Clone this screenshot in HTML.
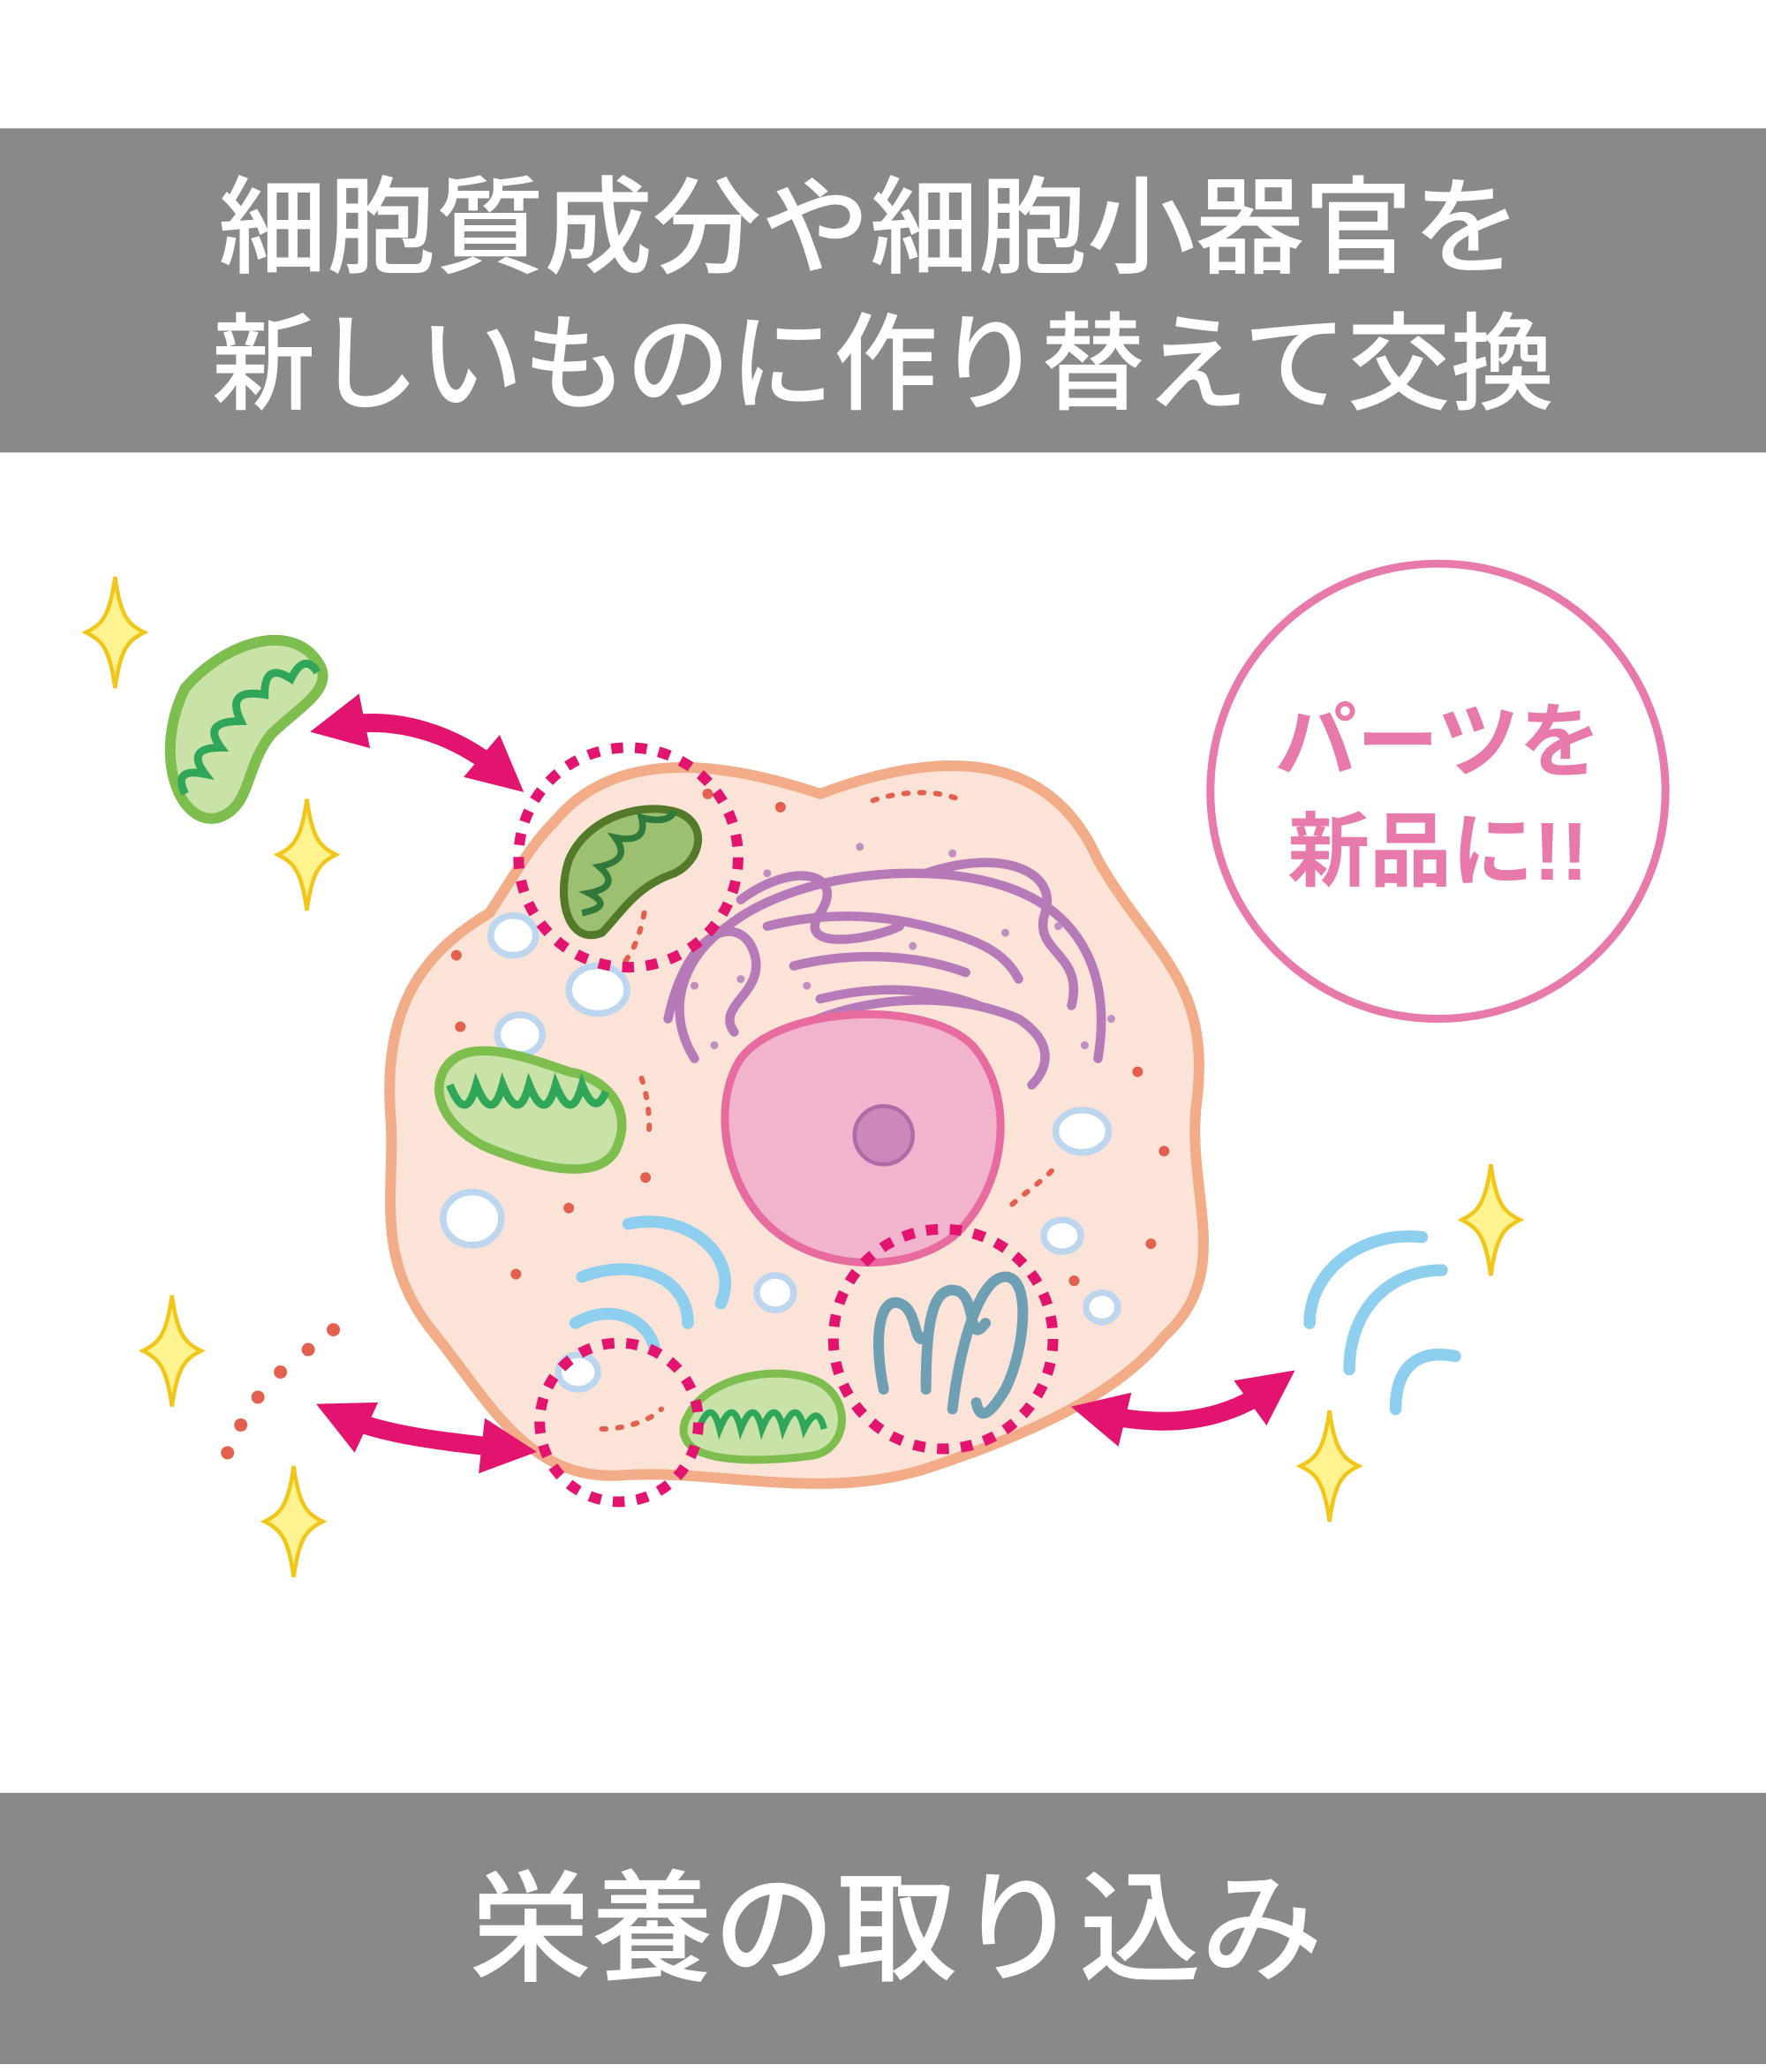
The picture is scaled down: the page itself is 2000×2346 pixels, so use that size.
<!DOCTYPE html>
<html><head><meta charset="utf-8"><style>
html,body{margin:0;padding:0;background:#fff}
svg{display:block}
text{font-family:"Liberation Sans","Noto Sans CJK JP",sans-serif}
</style></head><body>
<svg width="2000" height="2346" viewBox="0 0 1335 1566" preserveAspectRatio="none" xmlns="http://www.w3.org/2000/svg">
<defs>
<g id="spark"><path d="M0,-42 C4,-12 10,-6 22,0 C10,6 4,12 0,42 C-4,12 -10,6 -22,0 C-10,-6 -4,-12 0,-42Z" fill="#fff38f" stroke="#f2c618" stroke-width="3"/></g>
<marker id="ah" viewBox="0 0 10 10" refX="5" refY="5" markerWidth="3" markerHeight="3" orient="auto-start-reverse"><path d="M0,0 L10,5 L0,10Z" fill="#e3146f"/></marker>
</defs>
<rect x="0" y="0" width="1335" height="1566" fill="#fff"/>
<rect x="0" y="97" width="1335" height="245" fill="#898989"/>
<text x="165" y="200" font-size="80" fill="#fff" font-weight="500" textLength="985" lengthAdjust="spacingAndGlyphs">細胞質成分や細胞小器官を</text>
<text x="160" y="303" font-size="80" fill="#fff" font-weight="500" textLength="1015" lengthAdjust="spacingAndGlyphs">新しいものに作り替えて交換</text>
<rect x="0" y="1355" width="1335" height="205" fill="#898989"/>
<text x="355" y="1490" font-size="92" fill="#fff" font-weight="500" textLength="645" lengthAdjust="spacingAndGlyphs">栄養の取り込み</text>

<path d="M420,620 C470,560 560,580 620,600 C700,570 790,560 830,650 C870,720 915,740 905,830 C895,900 935,960 880,1010 C840,1060 760,1090 700,1110 C620,1135 540,1110 470,1115 C400,1120 370,1060 330,1010 C280,950 300,900 295,840 C290,760 320,720 370,690 C390,660 400,640 420,620Z" fill="#fbe3d7" stroke="#f2ac88" stroke-width="8"/>

<g fill="none" stroke="#b77ab8" stroke-width="7" stroke-linecap="round">
<path d="M525,800 C500,760 520,720 550,700 C600,660 700,650 760,670 C820,690 840,740 830,800"/>
<path d="M505,770 C520,700 560,690 570,720 C580,750 540,760 555,780"/>
<path d="M560,680 C600,650 640,660 620,690 C600,720 660,710 680,700"/>
<path d="M700,660 C760,640 800,660 790,690 C780,720 820,720 810,760"/>
<path d="M560,810 C600,760 700,740 770,770 C800,790 790,810 780,820"/>
<path d="M580,700 C620,690 660,690 700,700 C740,710 760,720 770,740"/>
<path d="M600,730 C640,720 690,720 730,735"/>
<path d="M620,755 C660,745 700,745 740,760"/>
</g>
<g fill="#c08fc0">
<circle cx="540" cy="790" r="3"/><circle cx="580" cy="660" r="3"/><circle cx="650" cy="640" r="3"/><circle cx="720" cy="645" r="3"/><circle cx="800" cy="700" r="3"/><circle cx="840" cy="770" r="3"/><circle cx="525" cy="745" r="3"/><circle cx="610" cy="745" r="3"/><circle cx="690" cy="715" r="3"/><circle cx="760" cy="705" r="3"/><circle cx="820" cy="790" r="3"/><circle cx="560" cy="740" r="3"/>
</g>

<path d="M560,800 C590,760 700,755 735,790 C770,830 760,900 720,935 C680,965 610,960 575,920 C545,885 540,830 560,800Z" fill="#f2b3cf" stroke="#e76b9e" stroke-width="6"/>
<circle cx="668" cy="858" r="22" fill="#cc88bb" stroke="#b06aa6" stroke-width="3"/>

<g fill="#fff" stroke="#bcd6ef" stroke-width="5">
<ellipse cx="388" cy="707" rx="17" ry="15"/><ellipse cx="452" cy="748" rx="22" ry="18"/><ellipse cx="393" cy="782" rx="17" ry="15"/>
<ellipse cx="357" cy="921" rx="22" ry="20"/><ellipse cx="818" cy="855" rx="20" ry="16"/><ellipse cx="803" cy="934" rx="14" ry="12"/>
<ellipse cx="833" cy="988" rx="12" ry="11"/><ellipse cx="586" cy="977" rx="14" ry="13"/><ellipse cx="437" cy="1037" rx="15" ry="13"/>
</g>
<g fill="#e4604e">
<circle cx="345" cy="722" r="4"/><circle cx="348" cy="776" r="4"/><circle cx="430" cy="913" r="4"/><circle cx="390" cy="963" r="4"/>
<circle cx="590" cy="610" r="4"/><circle cx="535" cy="600" r="4"/><circle cx="860" cy="810" r="4"/><circle cx="870" cy="940" r="4"/>
<circle cx="880" cy="870" r="4"/><circle cx="812" cy="968" r="4"/><circle cx="488" cy="890" r="4"/>
</g>
<g fill="none" stroke="#e4604e" stroke-width="4" stroke-dasharray="3 9" stroke-linecap="round">
<path d="M660,605 C680,598 705,597 722,603"/><path d="M485,815 C490,830 492,850 490,860"/><path d="M795,885 C785,895 770,905 760,915"/>
<path d="M487,690 C483,710 478,720 470,730"/><path d="M455,1080 C470,1080 490,1075 500,1065"/>
</g>

<path d="M335,810 C350,780 400,800 430,810 C460,815 480,840 465,870 C450,895 400,880 370,868 C340,855 325,830 335,810Z" fill="#c9e2a8" stroke="#7dbe4e" stroke-width="7"/>
<path d="M340,820 q12,30 20,0 q12,30 20,0 q12,30 20,0 q12,30 20,0 q12,30 20,0 q10,25 18,5" fill="none" stroke="#30a65a" stroke-width="6"/>
<path d="M430,650 C445,615 490,605 515,615 C535,625 530,650 510,660 C480,670 470,690 455,705 C430,715 420,680 430,650Z" fill="#9cc070" stroke="#527a28" stroke-width="6"/>
<path d="M440,690 q25,-5 5,-15 q25,-5 8,-20 q25,-5 12,-22 q25,5 20,-15 q20,5 25,-5" fill="none" stroke="#2f7a3a" stroke-width="5"/>
<path d="M520,1070 C535,1040 590,1030 620,1045 C645,1060 640,1095 615,1100 C580,1105 540,1105 525,1095 C515,1088 515,1078 520,1070Z" fill="#c9e2a8" stroke="#7dbe4e" stroke-width="6"/>
<path d="M528,1080 q10,-25 16,0 q10,-25 16,0 q10,-25 16,0 q10,-25 16,0 q10,-25 16,0 q10,-20 15,0" fill="none" stroke="#30a65a" stroke-width="5"/>

<g fill="none" stroke="#8ecff0" stroke-width="9" stroke-linecap="round">
<path d="M475,925 C520,915 560,950 545,985"/><path d="M440,965 C480,950 520,965 520,1000"/><path d="M435,1000 C460,985 490,995 495,1020"/>
</g>
<g fill="none" stroke="#6f9fb3" stroke-width="8" stroke-linecap="round">
<path d="M668,1050 C660,1010 665,980 680,985 C695,990 690,1020 700,1010"/>
<path d="M700,1050 C700,1000 705,975 720,975 C740,975 730,1020 745,1000"/>
<path d="M720,1065 C725,1020 740,965 760,965 C780,965 775,1020 760,1050 C745,1075 740,1070 738,1060"/>
</g>

<g fill="none" stroke="#e3146f" stroke-width="8" stroke-dasharray="9 9">
<circle cx="475" cy="648" r="83"/><circle cx="713" cy="1012" r="83"/><circle cx="468" cy="1075" r="60"/>
</g>

<g fill="none" stroke="#e3146f" stroke-width="14" marker-start="url(#ah)" marker-end="url(#ah)">
<path d="M255,549 C300,540 345,555 380,585"/>
<path d="M258,1070 C290,1085 340,1090 385,1095"/>
<path d="M830,1068 C880,1080 925,1075 962,1048"/>
</g>

<path d="M140,520 C170,485 220,470 240,500 C255,520 225,535 205,555 C185,580 190,610 165,618 C135,625 115,570 140,520Z" fill="#c9e2a8" stroke="#7dbe4e" stroke-width="8"/>
<path d="M140,600 q-10,-20 15,-15 q-15,-20 12,-20 q-15,-20 15,-20 q-12,-25 18,-20 q0,-25 20,-12 q10,-20 20,-5" fill="none" stroke="#30a65a" stroke-width="6"/>
<g fill="none" stroke="#8ecff0" stroke-width="9" stroke-linecap="round">
<path d="M990,1000 C990,960 1030,930 1075,935"/><path d="M1020,1035 C1020,990 1050,960 1090,960"/><path d="M1055,1065 C1055,1030 1075,1020 1100,1025"/>
</g>
<g fill="#e4604e"><circle cx="252" cy="1005" r="5"/><circle cx="233" cy="1020" r="5"/><circle cx="212" cy="1037" r="5"/><circle cx="195" cy="1056" r="5"/><circle cx="182" cy="1077" r="5"/><circle cx="172" cy="1098" r="5"/></g>

<use href="#spark" x="87" y="478"/><use href="#spark" x="232" y="646"/><use href="#spark" x="130" y="1021"/>
<use href="#spark" x="222" y="1150"/><use href="#spark" x="1127" y="922"/><use href="#spark" x="1005" y="1108"/>

<circle cx="1087" cy="598" r="172" fill="#fff" stroke="#e87aab" stroke-width="6"/>
<text x="1087" y="582" font-size="62" fill="#e87aab" text-anchor="middle" font-weight="bold">パーツを</text>
<text x="1087" y="665" font-size="62" fill="#e87aab" text-anchor="middle" font-weight="bold">新品に!!</text>
</svg>
</body></html>
